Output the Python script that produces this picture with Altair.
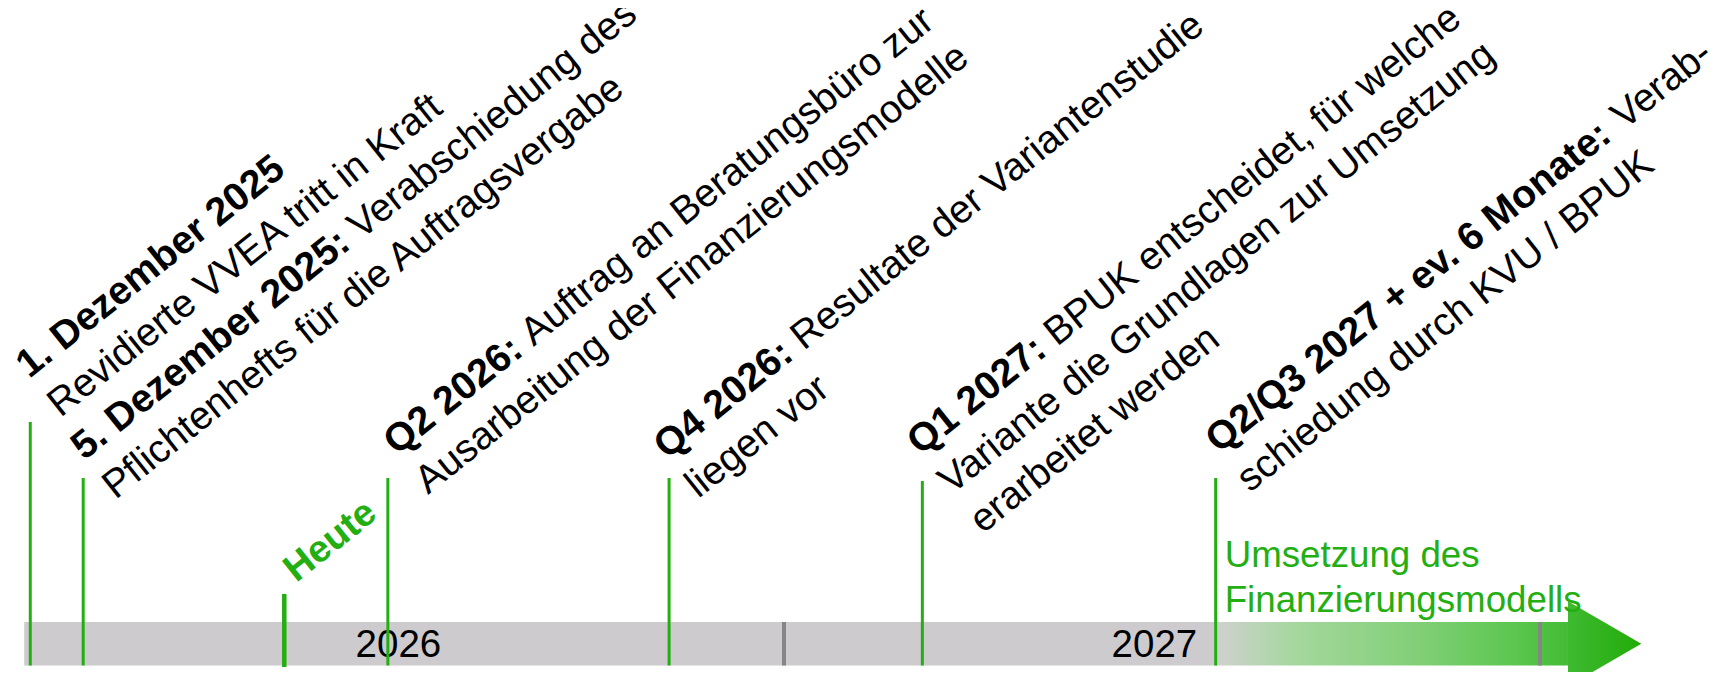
import math
import altair as alt
import pandas as pd

# ---------------- data ----------------
# positions on the time axis, in fractional years (schematic timeline)
event_pos = [2026.003, 2026.073, 2026.476, 2026.848, 2027.183, 2027.571]
event_bold = ["1. Dezember 2025", "5. Dezember 2025:", "Q2 2026:", "Q4 2026:",
              "Q1 2027:", "Q2/Q3 2027 + ev. 6 Monate:"]
event_line1 = ["", "Verabschiedung des", "Auftrag an Beratungsbüro zur",
               "Resultate der Variantenstudie", "BPUK entscheidet, für welche",
               "Verab-"]
event_more = ["Revidierte VVEA tritt in Kraft",
              "Pflichtenhefts für die Auftragsvergabe",
              "Ausarbeitung der Finanzierungsmodelle",
              "liegen vor",
              "Variante die Grundlagen zur Umsetzung\nerarbeitet werden",
              "schiedung durch KVU / BPUK"]
stem_height = [243.5, 187.5, 187.5, 187.5, 184.5, 187.5]

heute_label = "Heute"
heute_pos = 2026.339
heute_height = 71.5

year_labels = ["2026", "2027"]
year_label_pos = [2026.49, 2027.49]
year_ticks = [2027.0, 2028.0]

timeline_start = 2025.995
arrow_base = 2028.037
arrow_tip = 2028.134
impl_label = "Umsetzung des\nFinanzierungsmodells"

# ---------------- layout / style ----------------
W, H = 1703, 664
PPY = 756.0                 # pixels per year
X0 = 2026 - 20 / PPY
X1 = X0 + W / PPY
BASE = 657.5                # bar bottom, in plot pixels from top
BAR_H = 43.5
ARROW_HALF = 42.5
THETA = 38.6
FS = 39.3
LS = 50.0
FONT = "Liberation Sans"
GREEN = "#23ae12"
GREY_BAR = "#cdcbcd"
# screen offset of each label origin from the top of its stem
label_off = [(-1, -43), (1, -17), (9, -22), (-2, -18), (-2, -25), (3, -24)]
heute_off = (12, -11)

BOLD_W = {"0": 556, "1": 556, "2": 556, "3": 556, "4": 556, "5": 556, "6": 556,
          "7": 556, "8": 556, "9": 556, ".": 278, " ": 278, ":": 333, "/": 278,
          "+": 584, "D": 722, "Q": 778, "M": 833, "e": 556, "z": 500, "m": 889,
          "b": 611, "r": 389, "v": 556, "o": 611, "n": 611, "a": 556, "t": 333}
SPACE_W = 0.278


def bold_width(txt):
    return sum(BOLD_W.get(ch, 556) for ch in txt) / 1000.0 * FS


c = math.cos(math.radians(THETA))
s = math.sin(math.radians(THETA))

bold_rows, reg_rows, more_rows = [], [], []
for i, pos in enumerate(event_pos):
    ox, oy = label_off[i]
    bx = pos + ox / PPY
    bh = stem_height[i] - oy
    bold_rows.append({"x": bx, "h": bh, "t": event_bold[i]})
    if event_line1[i]:
        bw = bold_width(event_bold[i]) + SPACE_W * FS
        reg_rows.append({"x": bx + bw * c / PPY, "h": bh + bw * s, "t": event_line1[i]})
    more_rows.append({"x": bx + LS * s / PPY, "h": bh - LS * c, "t": event_more[i]})

x_scale = alt.Scale(domain=[X0, X1], range=[0, W], nice=False, zero=False)
y_scale = alt.Scale(domain=[0, BASE], range=[BASE, 0], nice=False, zero=False)


def X(f):
    return alt.X(f, type="quantitative", scale=x_scale, axis=None)


def Y(f):
    return alt.Y(f, type="quantitative", scale=y_scale, axis=None)


# grey part of the bar
bar_df = pd.DataFrame({"x": [timeline_start], "x2": [event_pos[-1]], "h": [BAR_H], "h2": [0.0]})
bar = alt.Chart(bar_df).mark_rect(color=GREY_BAR).encode(
    x=X("x"), x2="x2", y=Y("h"), y2="h2")

# green gradient part of the bar
grad_bar = alt.LinearGradient(
    gradient="linear",
    stops=[alt.GradientStop(offset=0.0, color="#d0d1d0"),
           alt.GradientStop(offset=0.22, color="#a6d79f"),
           alt.GradientStop(offset=0.55, color="#84d07a"),
           alt.GradientStop(offset=0.85, color="#5cc64f"),
           alt.GradientStop(offset=1.0, color="#43bc35")],
    x1=0, x2=1, y1=0, y2=0)
gbar_df = pd.DataFrame({"x": [event_pos[-1]], "x2": [arrow_base], "h": [BAR_H], "h2": [0.0]})
gbar = alt.Chart(gbar_df).mark_rect(color=grad_bar).encode(
    x=X("x"), x2="x2", y=Y("h"), y2="h2")

# arrow head
mid = BAR_H / 2
head_df = pd.DataFrame({
    "x": [arrow_base, arrow_tip],
    "top": [mid + ARROW_HALF, mid],
    "bot": [mid - ARROW_HALF, mid],
})
grad_head = alt.LinearGradient(
    gradient="linear",
    stops=[alt.GradientStop(offset=0.0, color="#3fba31"),
           alt.GradientStop(offset=1.0, color="#22ab08")],
    x1=0, x2=1, y1=0, y2=0)
head = alt.Chart(head_df).mark_area(color=grad_head, opacity=1).encode(
    x=X("x"), y=Y("top"), y2="bot")

# year ticks
tick_df = pd.DataFrame({"x": year_ticks, "h": [BAR_H] * 2, "h2": [0.0] * 2})
ticks = alt.Chart(tick_df).mark_rule(color="#858585", strokeWidth=4).encode(
    x=X("x"), y=Y("h"), y2="h2")

# year labels
ylab_df = pd.DataFrame({"x": year_label_pos, "h": [8.5, 8.5], "t": year_labels})
ylabs = alt.Chart(ylab_df).mark_text(
    font=FONT, fontSize=38.5, color="black", align="center", baseline="alphabetic").encode(
    x=X("x"), y=Y("h"), text="t:N")

# stems
stem_df = pd.DataFrame({"x": event_pos, "h": stem_height, "h2": [0.0] * len(event_pos)})
stems = alt.Chart(stem_df).mark_rule(color=GREEN, strokeWidth=3).encode(
    x=X("x"), y=Y("h"), y2="h2")
heute_df = pd.DataFrame({"x": [heute_pos], "h": [heute_height], "h2": [-1.5]})
heute_stem = alt.Chart(heute_df).mark_rule(color=GREEN, strokeWidth=4.5).encode(
    x=X("x"), y=Y("h"), y2="h2")

ANG = 360 - THETA
txt_common = dict(font=FONT, fontSize=FS, align="left", baseline="alphabetic",
                  angle=ANG, color="black")
bold_t = alt.Chart(pd.DataFrame(bold_rows)).mark_text(fontWeight="bold", **txt_common).encode(
    x=X("x"), y=Y("h"), text="t:N")
reg_t = alt.Chart(pd.DataFrame(reg_rows)).mark_text(**txt_common).encode(
    x=X("x"), y=Y("h"), text="t:N")
more_t = alt.Chart(pd.DataFrame(more_rows)).mark_text(lineBreak="\n", lineHeight=LS, **txt_common).encode(
    x=X("x"), y=Y("h"), text="t:N")

hx = heute_pos + heute_off[0] / PPY
hh = heute_height - heute_off[1]
heute_t = alt.Chart(pd.DataFrame({"x": [hx], "h": [hh], "t": [heute_label]})).mark_text(
    font=FONT, fontSize=38, fontWeight="bold", color=GREEN, align="left",
    baseline="alphabetic", angle=ANG).encode(x=X("x"), y=Y("h"), text="t:N")

impl_t = alt.Chart(pd.DataFrame({"x": [event_pos[-1]], "h": [98.5], "t": [impl_label]})).mark_text(
    font=FONT, fontSize=36.7, color=GREEN, align="left", baseline="alphabetic",
    lineBreak="\n", lineHeight=45, dx=9).encode(x=X("x"), y=Y("h"), text="t:N")

chart = alt.layer(
    bar, gbar, head, ticks, ylabs, stems, heute_stem, bold_t, reg_t, more_t, heute_t, impl_t
).properties(
    width=W, height=H, padding=0, autosize="none", background="white"
).configure_view(stroke=None)

chart.save("out.html", embed_options={"renderer": "svg", "actions": False})
